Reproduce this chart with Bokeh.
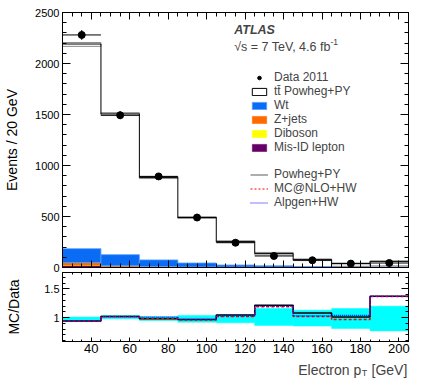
import math
from bokeh.plotting import figure
from bokeh.models import (Range1d, LinearAxis, SingleIntervalTicker, Label,
                          Legend, LegendItem)
from bokeh.layouts import column
from bokeh.embed import file_html
from bokeh.resources import INLINE

# ---------------- data ----------------
bin_edges = [25, 45, 65, 85, 105, 125, 145, 165, 185, 205]
data_2011 = [2280, 1493, 893, 490, 243, 113, 71, 38, 44]
data_err = [48, 39, 30, 22, 16, 11, 8, 6, 7]
mc_total = [2191, 1506, 883, 490, 254, 138, 77, 38, 60]
mc_band_lo = [2168, 1490, 872, 482, 246, 124, 68, 12, 16]
mc_band_hi = [2206, 1518, 893, 498, 262, 148, 84, 44, 64]
misid = [20, 9, 5, 3, 2, 1, 1, 0.5, 0.5]
diboson = [2, 2, 1.5, 1, 0.8, 0.5, 0.4, 0.3, 0.2]
zjets = [25, 6, 3, 2, 1, 1, 0.5, 0.3, 0.3]
wt = [138, 109, 65, 38, 21, 15, 8, 7, 5]

ratio_powheg = [0.94, 1.02, 0.98, 0.97, 1.047, 1.216, 1.08, 1.01, 1.374]
ratio_mcnlo = [0.94, 1.02, 0.99, 0.96, 1.02, 1.19, 1.02, 0.97, 1.37]
ratio_alpgen = [0.945, 1.02, 1.01, 0.97, 1.03, 1.20, 1.03, 1.04, 1.37]
ratio_band_lo = [0.93, 0.98, 0.95, 0.92, 0.91, 0.865, 0.855, 0.81, 0.77]
ratio_band_hi = [1.01, 1.04, 1.02, 1.04, 1.05, 1.16, 1.13, 1.16, 1.20]

FONT = "Liberation Sans"
left = bin_edges[:-1]
right = bin_edges[1:]
centers = [(a + b) / 2 for a, b in zip(left, right)]


def step_y(vals):
    return list(vals) + [vals[-1]]


def style_axis(ax, interval, minor, tick_in, minor_in, labels=True, size="11px", standoff=3):
    ax.ticker = SingleIntervalTicker(interval=interval, num_minor_ticks=minor)
    ax.major_tick_in = tick_in
    ax.major_tick_out = 0
    ax.minor_tick_in = minor_in
    ax.minor_tick_out = 0
    ax.axis_line_color = "black"
    ax.major_tick_line_color = "black"
    ax.minor_tick_line_color = "black"
    if labels:
        ax.major_label_text_font = FONT
        ax.major_label_text_font_size = size
        ax.major_label_text_color = "black"
        ax.major_label_standoff = standoff
    else:
        ax.major_label_text_color = None
        ax.major_label_standoff = 0
        ax.axis_label_standoff = 0


def title_axis(ax, text, standoff, align):
    ax.axis_label = text
    ax.axis_label_text_font = FONT
    ax.axis_label_text_font_size = "14px"
    ax.axis_label_text_font_style = "normal"
    ax.axis_label_text_color = "black"
    ax.axis_label_standoff = standoff
    try:
        ax.axis_label_align = align
    except Exception:
        pass


# ---------------- main panel ----------------
p = figure(width=417, height=272, x_range=Range1d(25, 205), y_range=Range1d(0, 2500),
           output_backend="svg", toolbar_location=None, title_location=None,
           min_border_left=62, min_border_right=9, min_border_top=12, min_border_bottom=5)
p.grid.visible = False
p.outline_line_color = "black"
p.background_fill_color = "white"
p.border_fill_color = "white"

b0 = [0] * 9
b1 = [a + b for a, b in zip(b0, misid)]
b2 = [a + b for a, b in zip(b1, diboson)]
b3 = [a + b for a, b in zip(b2, zjets)]
b4 = [a + b for a, b in zip(b3, wt)]

r_mis = p.quad(left=left, right=right, bottom=b0, top=b1, fill_color="#660066", line_color="#660066", line_width=0.5)
r_dib = p.quad(left=left, right=right, bottom=b1, top=b2, fill_color="#ffff00", line_color="#ffff00", line_width=0.5)
r_z = p.quad(left=left, right=right, bottom=b2, top=b3, fill_color="#ff6a00", line_color="#ff6a00", line_width=0.5)
r_wt = p.quad(left=left, right=right, bottom=b3, top=b4, fill_color="#0a6cf5", line_color="#5aa0ff", line_width=0.8)

# uncertainty band on MC total
p.quad(left=left, right=right, bottom=mc_band_lo, top=mc_band_hi, fill_alpha=0,
       line_color="#8c8c8c", line_width=1)
# MC total step
p.step(x=bin_edges, y=step_y(mc_total), mode="after", line_color="black", line_width=1)

# data
p.segment(x0=left, x1=right, y0=data_2011, y1=data_2011, line_color="black", line_width=1)
p.segment(x0=centers, x1=centers, y0=[d - e for d, e in zip(data_2011, data_err)],
          y1=[d + e for d, e in zip(data_2011, data_err)], line_color="black", line_width=1)
r_data = p.scatter(x=centers, y=data_2011, size=7, marker="circle", fill_color="black", line_color="black")

# legend proxies
nan = float("nan")
r_tt = p.quad(left=[nan], right=[nan], bottom=[nan], top=[nan], fill_color="white", line_color="black", line_width=1)
r_blank = p.line(x=[nan], y=[nan], line_alpha=0)
r_pw = p.line(x=[nan], y=[nan], line_color="#777777", line_width=1.2)
r_mn = p.line(x=[nan], y=[nan], line_color="red", line_width=1.2, line_dash="2 2")
r_al = p.line(x=[nan], y=[nan], line_color="blue", line_width=1.2, line_dash="1 1")

legend = Legend(items=[
    LegendItem(label="Data 2011", renderers=[r_data]),
    LegendItem(label="tt\u0304 Powheg+PY", renderers=[r_tt]),
    LegendItem(label="Wt", renderers=[r_wt]),
    LegendItem(label="Z+jets", renderers=[r_z]),
    LegendItem(label="Diboson", renderers=[r_dib]),
    LegendItem(label="Mis-ID lepton", renderers=[r_mis]),
    LegendItem(label=" ", renderers=[r_blank]),
    LegendItem(label="Powheg+PY", renderers=[r_pw]),
    LegendItem(label="MC@NLO+HW", renderers=[r_mn]),
    LegendItem(label="Alpgen+HW", renderers=[r_al]),
], location=(188, 58), label_text_font=FONT, label_text_font_size="12px",
    glyph_width=18, glyph_height=9, label_height=13, label_standoff=6, spacing=0,
    padding=0, margin=0, border_line_alpha=0, background_fill_alpha=0)
p.add_layout(legend)

# axes
style_axis(p.yaxis[0], 500, 5, 8, 4, True, "11px", 3)
title_axis(p.yaxis[0], "Events / 20 GeV", 12, "right")
style_axis(p.xaxis[0], 20, 4, 7, 4, False)
ax_r = LinearAxis()
style_axis(ax_r, 500, 5, 8, 4, False)
p.add_layout(ax_r, "right")
ax_t = LinearAxis()
style_axis(ax_t, 20, 4, 7, 4, False)
p.add_layout(ax_t, "above")

p.add_layout(Label(x=171.7, y=237.7, x_units="screen", y_units="screen", text="ATLAS",
                   text_font=FONT, text_font_size="12.5px", text_font_style="bold italic",
                   text_baseline="alphabetic"))
p.add_layout(Label(x=171.7, y=221, x_units="screen", y_units="screen", text="\u221as = 7 TeV, 4.6 fb",
                   text_font=FONT, text_font_size="12.5px", text_baseline="alphabetic"))
p.add_layout(Label(x=268, y=226, x_units="screen", y_units="screen", text="-1",
                   text_font=FONT, text_font_size="8.5px", text_baseline="alphabetic"))

# ---------------- ratio panel ----------------
q = figure(width=417, height=87, x_range=p.x_range, y_range=Range1d(0.585, 1.787),
           output_backend="svg", toolbar_location=None, title_location=None,
           min_border_left=62, min_border_right=9, min_border_top=0, min_border_bottom=18)
q.grid.visible = False
q.outline_line_color = "black"

q.quad(left=left, right=right, bottom=ratio_band_lo, top=ratio_band_hi,
       fill_color="#00ffff", line_color="#00ffff", line_width=0.5)
q.step(x=bin_edges, y=step_y(ratio_powheg), mode="after", line_color="black", line_width=1.5)
q.step(x=bin_edges, y=step_y(ratio_mcnlo), mode="after", line_color="red", line_width=1.5, line_dash="3 2")
q.step(x=bin_edges, y=step_y(ratio_alpgen), mode="after", line_color="blue", line_width=1.3, line_dash="1 1")

style_axis(q.yaxis[0], 0.5, 5, 7, 3, True, "11px", 3)
q.yaxis[0].major_label_overrides = {1: "1", 1.5: "1.5"}
title_axis(q.yaxis[0], "MC/Data", 19, "right")
style_axis(q.xaxis[0], 20, 4, 4, 2, True, "13px", 2)
qa_r = LinearAxis()
style_axis(qa_r, 0.5, 5, 7, 3, False)
q.add_layout(qa_r, "right")
qa_t = LinearAxis()
style_axis(qa_t, 20, 4, 4, 2, False)
q.add_layout(qa_t, "above")

# ---------------- x title strip ----------------
t = figure(width=417, height=19, x_range=Range1d(0, 346), y_range=Range1d(0, 19),
           x_axis_type=None, y_axis_type=None, output_backend="svg", toolbar_location=None,
           title_location=None,
           min_border_left=62, min_border_right=9, min_border_top=0, min_border_bottom=0)
t.outline_line_color = None
t.grid.visible = False
t.add_layout(Label(x=235.7, y=9, x_units="screen", y_units="screen", text="Electron p",
                   text_font=FONT, text_font_size="14px", text_baseline="alphabetic"))
t.add_layout(Label(x=299.2, y=6, x_units="screen", y_units="screen", text="T",
                   text_font=FONT, text_font_size="9px", text_baseline="alphabetic"))
t.add_layout(Label(x=309, y=9, x_units="screen", y_units="screen", text="[GeV]",
                   text_font=FONT, text_font_size="14px", text_baseline="alphabetic"))

layout = column(p, q, t, spacing=0)
open("out.html", "w").write(file_html(layout, INLINE))
